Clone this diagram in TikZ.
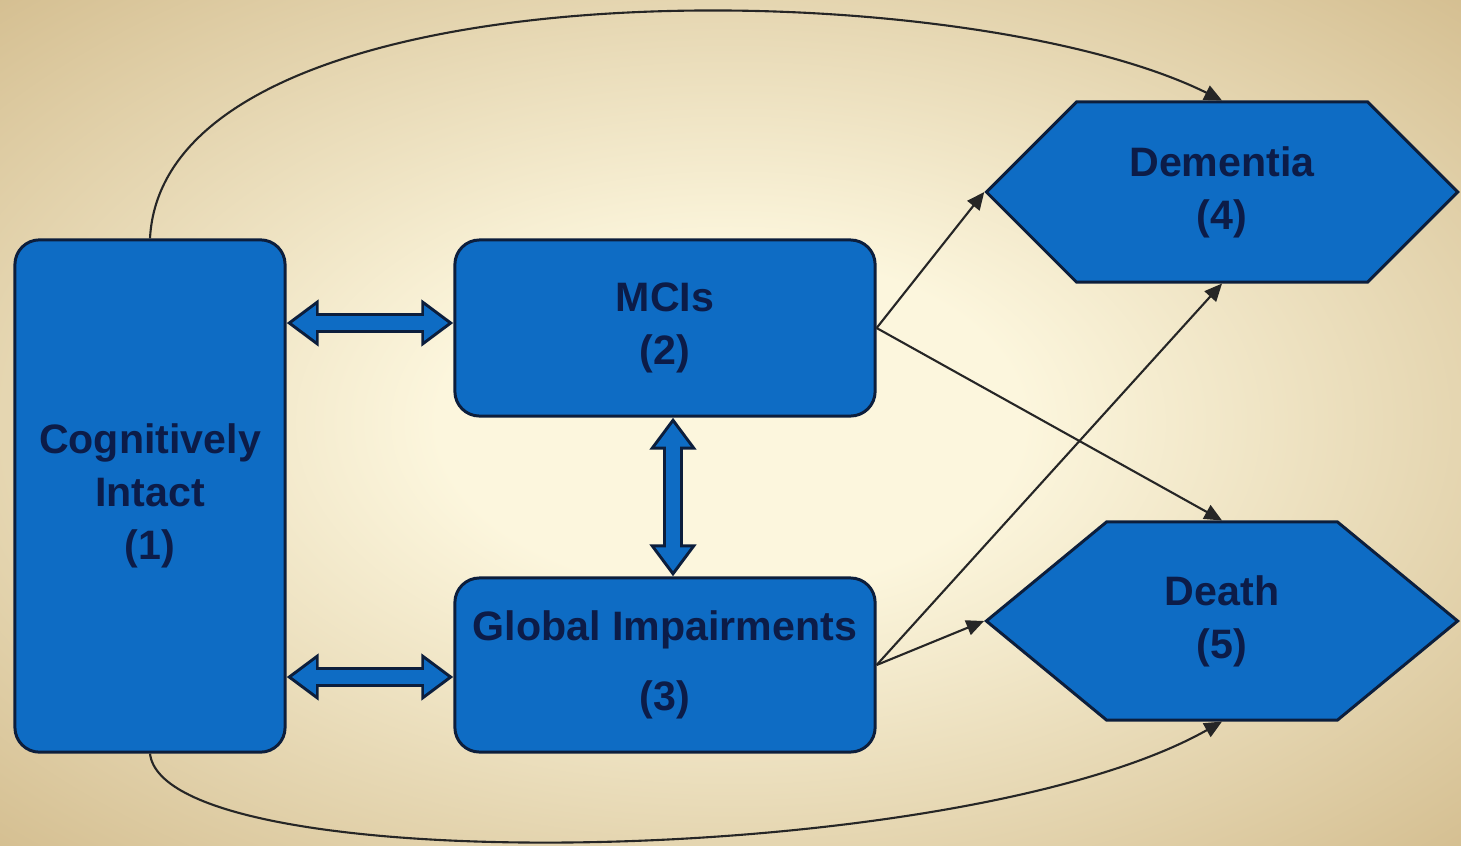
\documentclass[tikz,border=0pt]{standalone}
\usepackage{fontspec}
\newfontfamily\statefont{Liberation Sans}
\usepackage{tikz}
\usetikzlibrary{shapes,arrows.meta}
\definecolor{boxblue}{RGB}{14,108,196}
\definecolor{edgeblue}{RGB}{12,30,60}
\definecolor{textblue}{RGB}{12,28,72}
\definecolor{bgin}{RGB}{252,246,221}
\definecolor{bgout}{RGB}{212,190,144}
\pgfdeclareradialshading{bgshade}{\pgfpoint{0bp}{0bp}}{color(0bp)=(bgin); color(10bp)=(bgin); color(36bp)=(bgout); color(50bp)=(bgout)}
\tikzset{
  statebox/.style={draw=edgeblue, line width=0.85pt, fill=boxblue, rounded corners=7pt, text=textblue, align=center,
    font=\statefont\bfseries\fontsize{11.7pt}{15pt}\selectfont},
  statehex/.style={draw=edgeblue, line width=0.85pt, fill=boxblue, text=textblue, align=center,
    signal, signal to=east and west, signal pointer angle=90, minimum width=4.71cm, minimum height=1.8cm, inner sep=0pt,
    font=\statefont\bfseries\fontsize{11.7pt}{15pt}\selectfont},
  thinarrow/.style={-{Triangle[length=5pt, width=4.4pt]}, line width=0.6pt, draw=black!85}
}
\newcommand{\statebox}[5] {\node at (#1) (#2) [statebox, minimum width=#3, minimum height=#4] {#5};}
\newcommand{\statehex}[4] {\node at (#1) (#2) [statehex, #3] {#4};}
\newcommand{\blockarrow}[2] {%
  \draw [line width=5.7pt, draw=edgeblue, {Triangle[length=9.1pt, width=12.8pt]}-{Triangle[length=9.1pt, width=12.8pt]}] (#1) -- (#2);
  \draw [line width=4pt, draw=boxblue, shorten <=1.5pt, shorten >=1.5pt, {Triangle[length=6.8pt, width=9.6pt]}-{Triangle[length=6.8pt, width=9.6pt]}] (#1) -- (#2);}
\newcommand{\transition}[2] {\draw [thinarrow] (#1) -- (#2);}

\begin{document}
\begin{tikzpicture}[x=0.01cm, y=-0.01cm]

\useasboundingbox (0,0) rectangle (1461,845);
\shade [shading=bgshade] (0,0) rectangle (1461,845);

\statebox {150,496} {cog} {2.7cm} {5.12cm} {Cognitively\\Intact\\(1)}
\statebox {665,328} {mci} {4.2cm} {1.76cm} {MCIs\\(2)}
\statebox {665,665} {gi} {4.2cm} {1.74cm} {Global Impairments\\[4.8pt](3)}
\statehex {1222,192} {dem} {} {Dementia\\(4)}
\statehex {1222,621} {death} {minimum height=1.98cm, signal pointer angle=79} {Death\\(5)}

% double arrows between the boxes
\coordinate (m1) at ([yshift=0.05cm]mci.west);
\coordinate (g1) at ([yshift=-0.12cm]gi.west);
\coordinate (m2) at ([xshift=0.08cm]mci.south);
\coordinate (g2) at ([xshift=0.08cm]gi.north);
\blockarrow {m1 -| cog.east} {m1}
\blockarrow {g1 -| cog.east} {g1}
\blockarrow {m2} {g2}

\transition {mci.east} {dem.west}
\transition {mci.east} {death.north}
\transition {gi.east} {dem.south}
\transition {gi.east} {death.west}

\draw [thinarrow] (cog.north) .. controls +(15,-280) and +(-262,-130) .. (dem.north);
\draw [thinarrow] (cog.south) .. controls +(15,128) and +(-262,148) .. (death.south);

\end{tikzpicture}
\end{document}
